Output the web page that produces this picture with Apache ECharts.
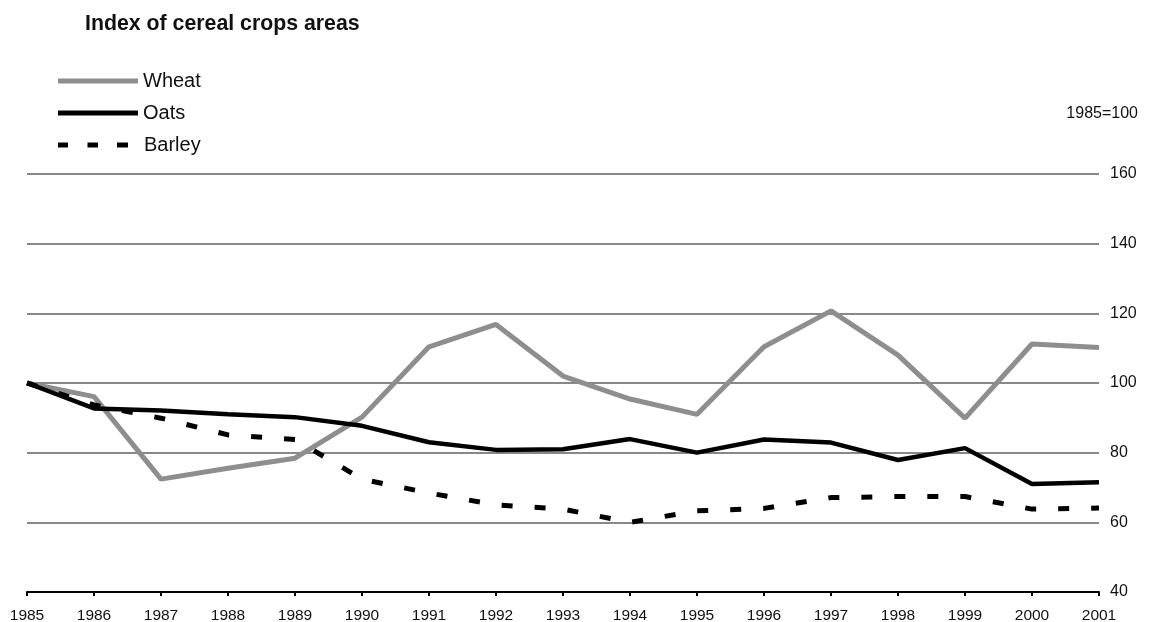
<!DOCTYPE html>
<html><head><meta charset="utf-8">
<script src="https://cdn.jsdelivr.net/npm/echarts@6/dist/echarts.min.js"></script>
<style>html,body{margin:0;padding:0;background:#fff}#c{width:1149px;height:622px}</style>
</head><body><div id="c"></div>
<script>
const years = ['1985','1986','1987','1988','1989','1990','1991','1992','1993','1994','1995','1996','1997','1998','1999','2000','2001'];
const wheat = [100, 96.1, 72.4, 75.5, 78.4, 90.2, 110.4, 116.8, 102, 95.4, 91, 110.4, 120.7, 108, 89.9, 111.2, 110.2];
const oats = [100, 92.7, 92.1, 91.0, 90.2, 87.7, 83, 80.8, 81, 83.9, 80, 83.8, 82.9, 77.9, 81.3, 71, 71.5];
const barley = [100, 93.7, 89.9, 85.1, 83.8, 72.4, 68.4, 65, 63.8, 60, 63.3, 64, 67.1, 67.4, 67.4, 63.8, 64.1];
const seriesNames = ['Wheat', 'Oats', 'Barley'];
const yTicks = {min: 40, max: 160, interval: 20};

const FONT = '"Liberation Sans", Arial, sans-serif';
const legendText = {fontFamily: FONT, fontSize: 20, color: '#111'};
const dashIcon = 'path://M0,0h10v5h-10z M29.5,0h10.5v5h-10.5z M59,0h11v5h-11z';
const legendTops = [66, 98, 130];
const chart = echarts.init(document.getElementById('c'), null, {renderer: 'canvas'});
chart.setOption({
  animation: false,
  backgroundColor: '#fff',
  title: [
    {text: 'Index of cereal crops areas', left: 80, top: 8.5,
     textStyle: {fontFamily: FONT, fontSize: 21.3, fontWeight: 'bold', color: '#111'}},
    {text: '1985=100', right: 6, top: 101,
     textStyle: {fontFamily: FONT, fontSize: 16, fontWeight: 'normal', color: '#111'}}
  ],
  legend: [
    {left: 53, top: legendTops[0], itemWidth: 80, itemHeight: 5, icon: 'rect', textStyle: legendText,
     data: [seriesNames[0]]},
    {left: 53, top: legendTops[1], itemWidth: 80, itemHeight: 5, icon: 'rect', textStyle: legendText,
     data: [seriesNames[1]]},
    {left: 53, top: legendTops[2], itemWidth: 70, itemHeight: 5, icon: dashIcon,
     textStyle: Object.assign({}, legendText, {padding: [0, 0, 0, 11]}),
     data: [seriesNames[2]]}
  ],
  grid: {left: 27, right: 50, top: 174, bottom: 30, containLabel: false, outerBoundsMode: 'none'},
  xAxis: {
    type: 'category', data: years, boundaryGap: false,
    axisLine: {lineStyle: {color: '#000', width: 2}},
    axisTick: {show: true, length: 4, lineStyle: {color: '#000', width: 2}},
    axisLabel: {fontFamily: FONT, fontSize: 15.5, color: '#111', margin: 16},
    splitLine: {show: false}
  },
  yAxis: {
    type: 'value', position: 'right', min: yTicks.min, max: yTicks.max, interval: yTicks.interval,
    axisLine: {show: false}, axisTick: {show: false},
    axisLabel: {fontFamily: FONT, fontSize: 16, color: '#111', margin: 11},
    splitLine: {lineStyle: {color: '#888', width: 2}}
  },
  series: [
    {name: seriesNames[0], type: 'line', data: wheat, symbol: 'none', z: 3,
     lineStyle: {color: '#8e8e8e', width: 5}, itemStyle: {color: '#8e8e8e'}},
    {name: seriesNames[1], type: 'line', data: oats, symbol: 'none', z: 4,
     lineStyle: {color: '#000', width: 4.5}, itemStyle: {color: '#000'}},
    {name: seriesNames[2], type: 'line', data: barley, symbol: 'none', z: 5,
     lineStyle: {color: '#000', width: 5, type: [11, 22]}, itemStyle: {color: '#000'}}
  ]
});
</script></body></html>
